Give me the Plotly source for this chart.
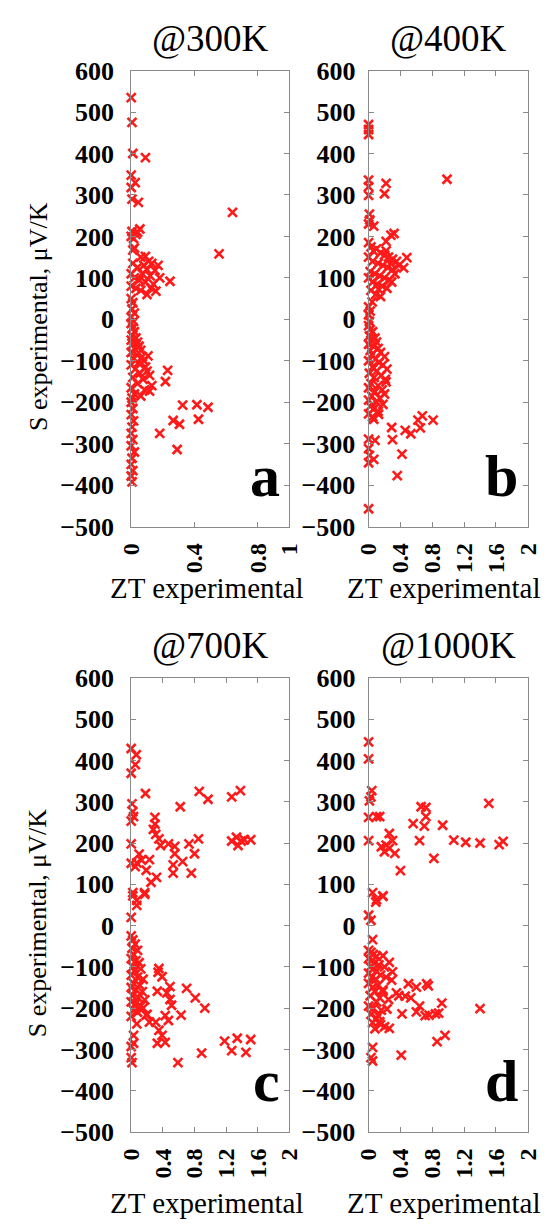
import plotly.graph_objects as go

# ---------------- data ----------------
zt_300 = [0.0, 0.005, 0.01, 0.09, 0.0, 0.025, 0.0, 0.005, 0.045, 0.64, 0.555, 0.245,
          0.005, 0.055, 0.0, 0.03, 0.015, 0.04, 0.01, 0.02,
          0.06, 0.09, 0.11, 0.13, 0.08, 0.04, 0.1, 0.15, 0.07, 0.12, 0.02, 0.05, 0.09, 0.14, 0.0, 0.03,
          0.06, 0.156, 0.1, 0.0, 0.01, 0.17, 0.18, 0.125,
          0.0, 0.01, 0.005, 0.02, 0.0, 0.015,
          0.0, 0.01, 0.02, 0.005, 0.03, 0.0, 0.04, 0.01, 0.05, 0.02, 0.06, 0.0, 0.035, 0.106, 0.07, 0.015,
          0.08, 0.045, 0.0, 0.09, 0.025, 0.23, 0.1, 0.055, 0.116, 0.01, 0.075, 0.216, 0.04, 0.13, 0.0, 0.085,
          0.116, 0.02, 0.06, 0.005,
          0.0, 0.01, 0.0, 0.015, 0.005, 0.0, 0.01, 0.0, 0.02, 0.005, 0.0, 0.01, 0.0, 0.005,
          0.325, 0.415, 0.485, 0.265, 0.305, 0.425, 0.18, 0.29]
s_300 = [535, 475, 400, 390, 348, 330, 318, 290, 282, 258, 158, 92,
         212, 218, 200, 205, 195, 210, 167, 172,
         150, 152, 140, 135, 130, 125, 120, 118, 110, 105, 100, 95, 90, 85, 80, 75,
         70, 68, 60, 110, 135, 130, 100, 75,
         50, 40, 25, 15, 5, -5,
         -10, -20, -30, -40, -45, -50, -55, -60, -65, -70, -75, -80, -85, -88, -90, -95,
         -100, -105, -110, -115, -120, -123, -125, -130, -135, -140, -145, -150, -155, -160, -165, -170,
         -173, -180, -185, -190,
         -200, -215, -230, -245, -260, -275, -290, -305, -320, -335, -350, -365, -378, -392,
         -207, -206, -212, -244, -253, -241, -275, -314]

zt_400 = [0.0, 0.0, 0.0, 0.985, 0.0, 0.0, 0.0, 0.22, 0.2,
          0.01, 0.015, 0.0, 0.065, 0.28, 0.22, 0.32, 0.48, 0.44,
          0.0, 0.03, 0.06, 0.1, 0.15, 0.2, 0.25, 0.3, 0.35, 0.0, 0.05, 0.12, 0.18, 0.24, 0.3, 0.02,
          0.08, 0.14, 0.2, 0.26, 0.33, 0.0, 0.05, 0.11, 0.17, 0.23, 0.29, 0.03, 0.09, 0.125, 0.15, 0.38,
          0.22, 0.28,
          0.045, 0.0, 0.02, 0.0, 0.01,
          0.0, 0.02, 0.05, 0.01, 0.08, 0.03, 0.1, 0.0, 0.06, 0.12, 0.02, 0.15, 0.04, 0.2, 0.09, 0.0,
          0.13, 0.18, 0.05, 0.23, 0.1, 0.01, 0.16, 0.07, 0.21, 0.22, 0.03, 0.12, 0.0, 0.17, 0.08, 0.2,
          0.04, 0.14, 0.0, 0.1, 0.18, 0.02, 0.07, 0.12, 0.0, 0.05,
          0.065, 0.125, 0.29, 0.3, 0.46, 0.53, 0.62, 0.675, 0.65, 0.81, 0.42, 0.36,
          0.0, 0.08, 0.0, 0.01, 0.065, 0.0, 0.0]
s_400 = [470, 458, 446, 338, 336, 320, 299, 328, 303,
         254, 240, 230, 225, 203, 188, 207, 149, 124,
         185, 175, 165, 170, 160, 155, 150, 145, 140, 150, 140, 135, 130, 125, 120, 115,
         110, 105, 100, 95, 110, 100, 90, 85, 80, 75, 90, 70, 60, 73, 55, 130,
         165, 135,
         42, 30, 20, 11, -5,
         -15, -25, -30, -40, -45, -50, -55, -60, -65, -70, -75, -80, -85, -90, -95, -100,
         -105, -110, -115, -120, -125, -130, -135, -140, -145, -151, -155, -160, -165, -170, -175, -180,
         -185, -190, -195, -200, -205, -210, -215, -222, -228, -235,
         -241, -229, -261, -290, -268, -276, -243, -233, -262, -243, -325, -377,
         -289, -292, -312, -328, -338, -346, -457]

zt_700 = [0.0, 0.064, 0.052, 0.0, 0.18, 0.86, 0.97, 1.27, 1.38, 0.62,
          0.01, 0.02, 0.0, 0.03, 0.3, 0.3, 0.28, 0.31, 0.35, 0.37, 0.47, 0.55, 0.55, 0.65, 0.73, 0.85,
          0.80, 0.53, 0.53, 0.76,
          1.27, 1.33, 1.39, 1.51, 1.35, 1.43,
          0.0, 0.0, 0.1, 0.07, 0.13, 0.05, 0.23, 0.19, 0.25, 0.32, 0.02, 0.17, 0.07,
          0.17, 0.02, 0.07, 0.0,
          0.0, 0.02, 0.05, 0.01, 0.08, 0.03, 0.0, 0.06, 0.1, 0.02, 0.12, 0.04, 0.0, 0.08, 0.15, 0.03,
          0.11, 0.0, 0.06, 0.14, 0.02, 0.09, 0.17, 0.0, 0.05, 0.12, 0.03, 0.08, 0.0, 0.15, 0.2,
          0.35, 0.39, 0.34, 0.7, 0.81, 0.93, 0.49, 0.45, 0.49, 0.51, 0.33, 0.63, 0.43, 0.47,
          0.19, 0.23, 0.31, 0.07, 0.35, 0.39, 0.33, 0.43, 0.03, 0.03, 0.0,
          1.18, 1.34, 1.51, 1.27, 1.45, 0.89, 0.59, 0.0, 0.01]
s_700 = [429, 414, 390, 369, 320, 325, 306, 312, 327, 288,
         295, 276, 253, 264, 262, 246, 233, 221, 210, 194, 198, 192, 174, 155, 198, 210,
         174, 147, 127, 127,
         205, 214, 205, 208, 194, 208,
         198, 151, 173, 152, 159, 143, 160, 134, 105, 117, 80, 80, 61,
         76, 72, 49, 20,
         -25, -35, -45, -55, -60, -70, -80, -85, -90, -100, -105, -110, -120, -125, -130, -140,
         -145, -150, -155, -160, -170, -175, -180, -185, -190, -195, -205, -210, -220, -200, -215,
         -104, -124, -113, -152, -175, -200, -148, -163, -179, -193, -159, -217, -218, -230,
         -217, -234, -234, -238, -254, -266, -285, -283, -266, -285, -293,
         -280, -273, -276, -303, -307, -309, -332, -320, -332]

zt_1000 = [0.0, 0.0, 0.04, 0.03, 0.01, 0.0, 0.1, 0.14, 0.0, 0.26,
           0.3, 0.16, 0.22, 0.2, 0.26, 0.33, 0.4, 0.56, 0.64, 0.66, 0.72, 0.72, 0.7, 0.82, 0.93,
           1.07, 1.22, 1.4, 1.51, 1.64, 1.69,
           0.05, 0.1, 0.18, 0.09, 0.18, 0.0, 0.03, 0.05,
           0.0, 0.03, 0.06, 0.1, 0.0, 0.04, 0.08, 0.13, 0.02, 0.06, 0.2, 0.1, 0.0, 0.15, 0.04, 0.09,
           0.22, 0.0, 0.12, 0.05, 0.18, 0.08, 0.02, 0.14, 0.1, 0.0, 0.06, 0.16, 0.03, 0.1, 0.05, 0.15,
           0.08, 0.2,
           0.26, 0.3, 0.18, 0.29, 0.35, 0.25, 0.23, 0.14, 0.26, 0.12, 0.18,
           0.5, 0.6, 0.73, 0.75, 0.46, 0.53, 0.38, 0.64, 0.6, 0.71, 0.76, 0.84, 0.88, 0.92, 0.42, 1.4,
           0.96, 0.86, 0.41, 0.05, 0.03, 0.05]
s_1000 = [445, 404, 327, 312, 302, 262, 264, 264, 206, 223,
          206, 191, 195, 179, 187, 175, 133, 247, 206, 288, 286, 264, 241, 163, 243,
          207, 202, 200, 296, 196, 204,
          80, 63, 72, 57, 71, 25, 13, -34,
          -60, -65, -70, -75, -80, -85, -90, -95, -100, -105, -100, -110, -115, -120, -125, -130,
          -125, -140, -145, -150, -155, -160, -170, -175, -185, -195, -200, -205, -215, -225, -235, -240,
          -250, -245,
          -89, -112, -73, -132, -163, -179, -202, -233, -249, -218, -159,
          -141, -149, -141, -146, -171, -175, -170, -195, -209, -218, -217, -214, -212, -188, -214, -201,
          -266, -281, -314, -295, -320, -328]

panels = [("@300K", "a", zt_300, s_300),
          ("@400K", "b", zt_400, s_400),
          ("@700K", "c", zt_700, s_700),
          ("@1000K", "d", zt_1000, s_1000)]

y_ticks = list(range(-500, 601, 100))
x_ticks_1 = [0, 0.4, 0.8, 1]
x_ticks_2 = [0, 0.4, 0.8, 1.2, 1.6, 2]

# ---------------- layout ----------------
W, H = 557, 1228
SERIF = "Liberation Serif"
AX_COL = "#8a8a8a"

col_dom = [(124 / W, 290 / W), (373 / W, 540 / W)]
row_dom = [((H - 525) / H, (H - 58) / H), ((H - 1145) / H, (H - 680) / H)]

fig = go.Figure()
layout = dict(width=W, height=H, autosize=False,
              margin=dict(l=0, r=0, t=0, b=0),
              paper_bgcolor="white", plot_bgcolor="white",
              showlegend=False, annotations=[])

for i, (title, letter, zt, s) in enumerate(panels):
    r, c = divmod(i, 2)
    n = "" if i == 0 else str(i + 1)
    xa, ya = "x" + n, "y" + n
    fig.add_trace(go.Scatter(
        x=zt, y=s, xaxis=xa, yaxis=ya, mode="markers", cliponaxis=False,
        marker=dict(symbol="x-thin", size=9, color="#ff1a1a",
                    line=dict(width=2.6, color="#ff1a1a"))))
    if i == 0:
        xr, xt = [0, 1], x_ticks_1
    else:
        xr, xt = [0, 2], x_ticks_2
    xtext = [("%g" % v) for v in xt]
    layout["xaxis" + n] = dict(
        domain=list(col_dom[c]), anchor=ya, range=xr, tickvals=xt, ticktext=xtext,
        tickangle=-90, ticks="inside", ticklen=5, tickcolor=AX_COL, showline=True,
        linecolor=AX_COL, linewidth=1, mirror="ticks", showgrid=False, zeroline=False,
        tickfont=dict(family=SERIF, size=24, color="black", weight="bold"),
        ticklabelstandoff=6)
    layout["yaxis" + n] = dict(
        domain=list(row_dom[r]), anchor=xa, range=[-500, 600], tickvals=y_ticks,
        ticks="inside", ticklen=5, tickcolor=AX_COL, showline=True, linecolor=AX_COL,
        linewidth=1, mirror="ticks", showgrid=False, zeroline=False,
        tickfont=dict(family=SERIF, size=26, color="black", weight="bold"),
        ticklabelstandoff=11 if c == 0 else 7)
    cx = (col_dom[c][0] + col_dom[c][1]) / 2
    top_px = 58 if r == 0 else 680
    bot_px = 525 if r == 0 else 1145
    # panel title
    layout["annotations"].append(dict(
        text=title, xref="paper", yref="paper", x=cx, y=(H - (top_px - 33)) / H,
        xanchor="center", yanchor="middle", showarrow=False,
        font=dict(family=SERIF, size=37, color="black")))
    # x-axis title
    layout["annotations"].append(dict(
        text="ZT experimental", xref="paper", yref="paper", x=cx - 4 / W,
        y=(H - (bot_px + (63 if r == 0 else 73))) / H, xanchor="center",
        yanchor="middle", showarrow=False,
        font=dict(family=SERIF, size=29, color="black")))
    # panel letter
    right_px = col_dom[c][1] * W
    layout["annotations"].append(dict(
        text="<b>%s</b>" % letter, xref="paper", yref="paper", x=(right_px - 8) / W,
        y=(H - (bot_px - 16)) / H, xanchor="right", yanchor="bottom", showarrow=False,
        font=dict(family=SERIF, size=60, color="black")))

for r in range(2):
    mid = (row_dom[r][0] + row_dom[r][1]) / 2
    layout["annotations"].append(dict(
        text="S experimental, \u03bcV/K", xref="paper", yref="paper", x=26 / W,
        y=mid - 18 / H, xanchor="center", yanchor="middle", textangle=-90,
        showarrow=False, font=dict(family=SERIF, size=26, color="black")))

fig.update_layout(**layout)
fig.write_html("out.html")
